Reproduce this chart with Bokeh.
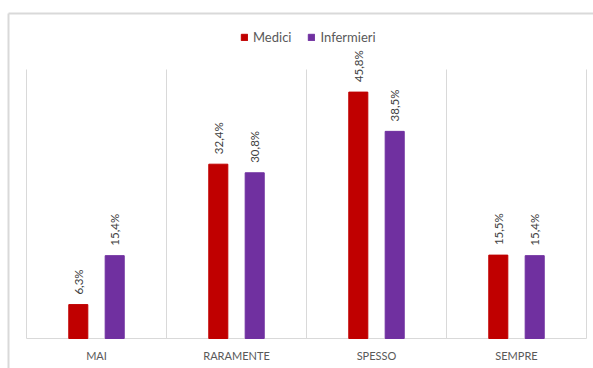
from bokeh.plotting import figure
from bokeh.models import Range1d, ColumnDataSource, Legend, LegendItem, LabelSet
from bokeh.core.properties import value
from bokeh.transform import dodge
from bokeh.embed import file_html
from bokeh.resources import INLINE
from math import pi

categories = ["MAI", "RARAMENTE", "SPESSO", "SEMPRE"]
medici = [6.3, 32.4, 45.8, 15.5]
infermieri = [15.4, 30.8, 38.5, 15.4]
series_names = ["Medici", "Infermieri"]
colors = ["#C00000", "#7030A0"]
y_max = 50

W, H = 593, 368
# plot-area placement in pixels
PL, PR, PT, PB = 26, 586, 69, 338
n = len(categories)
sx = (PR - PL) / n
sy = (PB - PT) / y_max
px2x = lambda px: (px - PL) / sx
px2y = lambda py: (PB - py) / sy

x = [i + 0.5 for i in range(n)]
fmt = lambda v: f"{v:.1f}%".replace(".", ",")
src = ColumnDataSource(dict(
    x=x, medici=medici, infermieri=infermieri, cat=categories, zero=[0] * n,
    lm=[fmt(v) for v in medici], li=[fmt(v) for v in infermieri],
))

p = figure(width=W, height=H, output_backend="svg", toolbar_location=None,
           x_range=Range1d(px2x(0), px2x(W)), y_range=Range1d(px2y(H), px2y(0)),
           min_border=0)
p.outline_line_color = None
p.axis.visible = False
p.grid.visible = False

# outer chart frame
p.segment(x0=[px2x(8)], y0=[px2y(13)], x1=[px2x(W + 5)], y1=[px2y(13)], line_color="#d9d9d9", line_width=2)
p.segment(x0=[px2x(8)], y0=[px2y(13)], x1=[px2x(8)], y1=[px2y(H + 5)], line_color="#d9d9d9", line_width=2)

# category separators and baseline
bounds = list(range(n + 1))
p.segment(x0=bounds, y0=[0] * (n + 1), x1=bounds, y1=[y_max] * (n + 1), line_color="#d9d9d9", line_width=1)
p.segment(x0=[0], y0=[0], x1=[n], y1=[0], line_color="#d9d9d9", line_width=1)

off = 0.13
w = 0.136
r1 = p.vbar(x=dodge("x", -off, range=p.x_range), top="medici", width=w, source=src, color=colors[0])
r2 = p.vbar(x=dodge("x", off, range=p.x_range), top="infermieri", width=w, source=src, color=colors[1])

for col, lab, o in [("medici", "lm", -off), ("infermieri", "li", off)]:
    p.add_layout(LabelSet(x=dodge("x", o, range=p.x_range), y=col, text=lab, source=src, angle=pi / 2,
                          text_align="left", text_baseline="middle", y_offset=10,
                          text_font=value("Lato"), text_font_size=value("11.5px"), text_color="#404040"))

p.add_layout(LabelSet(x="x", y="zero", text="cat", source=src, text_align="center", text_baseline="middle",
                      y_offset=-17, text_font=value("Lato"), text_font_size=value("11px"), text_color="#595959"))

legend = Legend(items=[LegendItem(label=series_names[0], renderers=[r1]),
                       LegendItem(label=series_names[1], renderers=[r2])],
                orientation="horizontal", location=(240, H - 45),
                label_text_font="Lato", label_text_font_size="13px", label_text_color="#595959",
                glyph_width=8, glyph_height=8, label_standoff=5, spacing=16,
                border_line_color=None, background_fill_alpha=0, margin=0, padding=0)
p.add_layout(legend, "center")

open("out.html", "w").write(file_html(p, INLINE))
